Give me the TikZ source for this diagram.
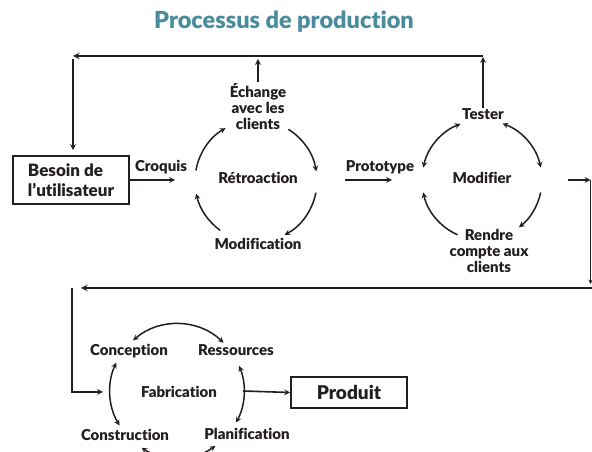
\documentclass[tikz,border=0pt]{standalone}
\usepackage{fontspec}
\setmainfont{Lato}[BoldFont={Lato Black}, Ligatures=NoCommon]
\definecolor{titleteal}{RGB}{74,140,156}
\definecolor{ink}{RGB}{35,31,32}
\tikzset{
    lbl/.style={font=\bfseries\fontsize{15}{16}\selectfont, text=ink, align=center, inner sep=0pt},
    boxlbl/.style={draw=ink, line width=1.7pt, text=ink, inner sep=0pt},
    flow/.style={draw=ink, line width=1.6pt, -stealth},
    cyc/.style={draw=ink, line width=1.5pt},
}

\begin{document}
\begin{tikzpicture}[x=1pt,y=1pt]
    \clip (0,0) rectangle (592,452);
    \fill[white] (0,0) rectangle (592,452);
    \node[font=\bfseries\fontsize{23.5}{26}\selectfont, text=titleteal] (title) at (284,430) {Processus de production};

    % first step: the need
    \node[boxlbl, align=left, minimum width=116pt, minimum height=48pt, font=\bfseries\fontsize{17}{20}\selectfont] (besoin) at (71,272) {Besoin de\\l’utilisateur};
    \node[lbl] (croquis) at (161,285) {Croquis};
    \coordinate (croqend) at (175,272);
    \draw[flow] (besoin.east) -- (croqend);

    % feedback loop
    \coordinate (c1) at (256,271);
    \node[lbl] (retro) at (258,274) {Rétroaction};
    \node[lbl] (echange) at (258,345) {Échange\\avec les\\clients};
    \node[lbl] (modif) at (258,208) {Modification};
    \draw[cyc, -stealth] (c1) ++(170:61) arc[start angle=170, end angle=120, radius=61];
    \draw[cyc, -stealth] (c1) ++(58:61) arc[start angle=58, end angle=9, radius=61];
    \draw[cyc, -stealth] (c1) ++(-11:61) arc[start angle=-11, end angle=-62, radius=61];
    \draw[cyc, -stealth] (c1) ++(234:61) arc[start angle=234, end angle=192, radius=61];

    \node[lbl] (proto) at (380,285) {Prototype};
    \coordinate (protostart) at (345,272);
    \coordinate (protoend) at (392,272);
    \draw[flow] (protostart) -- (protoend);

    % test loop
    \coordinate (c2) at (482,272);
    \node[lbl] (modifier) at (482,274) {Modifier};
    \node[lbl] (tester) at (483,338) {Tester};
    \node[lbl] (rendre) at (489,201) {Rendre\\compte aux\\clients};
    \draw[cyc, stealth-stealth] (c2) ++(168:60) arc[start angle=168, end angle=111, radius=60];
    \draw[cyc, stealth-stealth] (c2) ++(70:60) arc[start angle=70, end angle=12, radius=60];
    \draw[cyc, -stealth] (c2) ++(-12:60) arc[start angle=-12, end angle=-52, radius=60];
    \draw[cyc, -stealth] (c2) ++(246:60) arc[start angle=246, end angle=192, radius=60];

    % back to the user
    \coordinate (topleft) at (73,396);
    \coordinate (topright) at (483,396);
    \draw[flow] (tester.north) -- ([yshift=-1pt]topright);
    \draw[flow] ([yshift=2pt]echange.north) -- ([yshift=-3pt]echange.north |- topleft);
    \draw[flow, line width=1.9pt] (topright) -- (topleft);
    \draw[flow] ([yshift=-3pt]topleft) -- ([yshift=5pt]besoin.north -| topleft);

    % down to production
    \coordinate (rstart) at (568,272);
    \coordinate (rcorner) at (590.5,272);
    \coordinate (rdown) at (590.5,168);
    \coordinate (mright) at (592,164);
    \coordinate (mleft) at (81,164);
    \coordinate (ltop) at (72,164);
    \coordinate (lend) at (103,60);
    \draw[flow] (rstart) -- (rcorner);
    \draw[flow, line width=1pt] (rcorner) -- (rdown);
    \draw[flow, line width=1.9pt] (mright) -- (mleft);
    \draw[flow] (ltop) |- (lend);

    % production loop
    \coordinate (c3) at (177,61);
    \node[lbl] (fab) at (179,60) {Fabrication};
    \node[lbl] (concep) at (129,101) {Conception};
    \node[lbl] (ress) at (236,102) {Ressources};
    \node[lbl] (constr) at (125,17) {Construction};
    \node[lbl] (planif) at (247,18) {Planification};
    \draw[cyc, stealth-stealth] (c3) ++(131:67) arc[start angle=131, end angle=46, radius=67];
    \draw[cyc, stealth-stealth] (c3) ++(155:67) arc[start angle=155, end angle=211, radius=67];
    \draw[cyc, stealth-stealth] (c3) ++(22:67) arc[start angle=22, end angle=-28, radius=67];
    \draw[cyc, stealth-stealth] (c3) ++(238:67) arc[start angle=238, end angle=305, radius=67];

    \node[boxlbl, minimum width=116pt, minimum height=31pt, font=\bfseries\fontsize{19}{22}\selectfont] (produit) at (349,59.5) {Produit};
    \coordinate (fabend) at (243,61);
    \draw[flow] (fabend) -- (produit.west);
\end{tikzpicture}
\end{document}
